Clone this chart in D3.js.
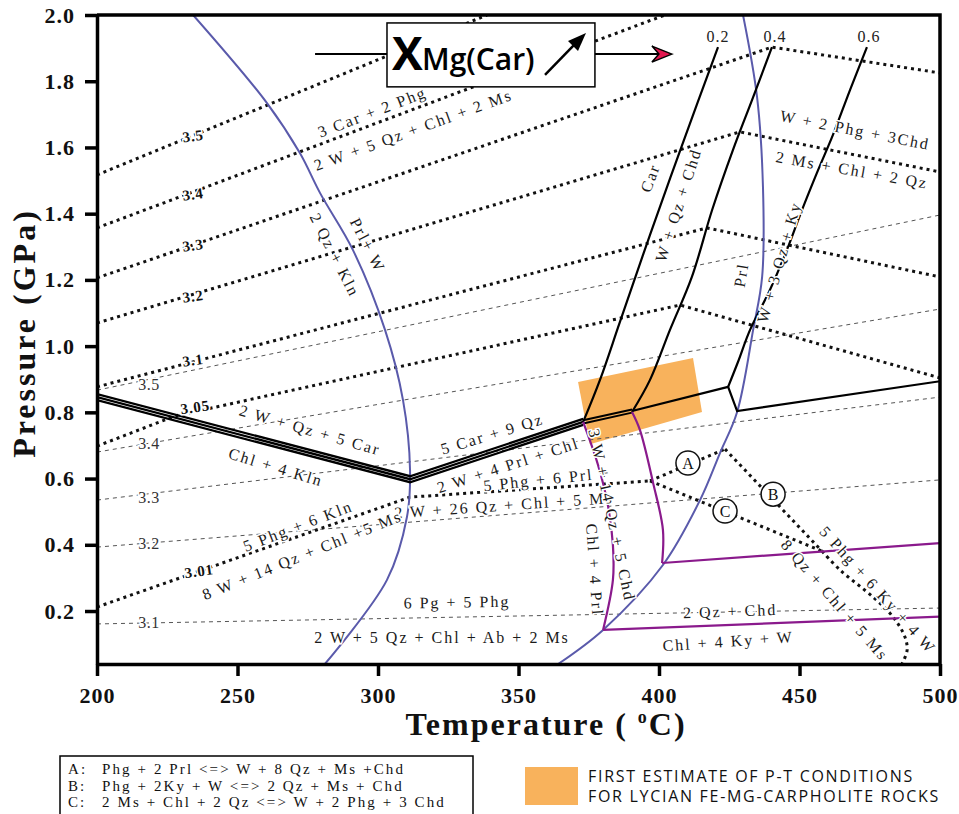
<!DOCTYPE html>
<html lang="en">
<head>
<meta charset="utf-8">
<title>Carpholite P-T grid</title>
<script src="https://cdnjs.cloudflare.com/ajax/libs/d3/7.8.5/d3.min.js"></script>
<style>
  body { margin: 0; background: #fff; }
</style>
</head>
<body>
<script>

// axes
var tempTicks = [200, 250, 300, 350, 400, 450, 500];
var pressTicks = [0.2, 0.4, 0.6, 0.8, 1.0, 1.2, 1.4, 1.6, 1.8, 2.0];

// Prl + W = 2 Qz + Kln  and  Prl = Ky + 3 Qz + W  (blue)
var prlKln = [[234.2,2.0],[260.5,1.734],[272.2,1.583],[279.4,1.462],[291.1,1.290],[302.5,1.049],
              [308.9,0.837],[311.4,0.626],[310.3,0.484],[303.2,0.294],[281.1,0.04]];
var prlKy = [[429.9,2.0],[434.9,1.752],[437.0,1.481],[436.7,1.209],[433.5,1.049],[427.8,0.801],
             [421.7,0.677],[414.6,0.535],[401.4,0.339],[380.1,0.143],[364.1,0.04]];

// XMg(Car) isopleths
var isoNames = ["0.2", "0.4", "0.6"];
var iso02 = [[421.0,1.903],[408.9,1.623],[396.8,1.336],[386.1,1.073],[379.0,0.898],[373.0,0.771]];
var iso04 = [[440.2,1.903],[433.1,1.743],[426.3,1.592],[418.9,1.411],[411.7,1.209],[403.9,1.049],
             [396.8,0.898],[390.4,0.801]];
var iso06 = [[474.0,1.903],[468.0,1.774],[461.9,1.638],[456.2,1.523],[450.2,1.396],[445.9,1.299],
             [439.5,1.170],[432.4,1.049],[428.1,0.952],[424.6,0.877]];
var isoLabelPos = [[421.0,1.934],[441.3,1.934],[474.7,1.934]];

// carpholite-out reactions (heavy black)
var carOutTriple = [[200,0.846],[311.4,0.598],[373.0,0.771]];
var carOutDouble = [[373.0,0.771],[390.4,0.804]];
var carOutSingle = [[390.4,0.804],[424.6,0.877],[427.8,0.804],[500,0.894]];

// chloritoid-in reactions (purple)
var chd1 = [[390.4,0.801],[393.2,0.747],[397.9,0.587],[401.4,0.445],[401.1,0.345]];
var chd1b = [[401.1,0.345],[500,0.405]];
var chd2 = [[373.0,0.771],[378.3,0.641],[381.8,0.520],[383.6,0.399],[383.6,0.294],[380.1,0.143]];
var chd2b = [[380.1,0.143],[500,0.183]];

// Si isopleths, carpholite breakdown (heavy dotted)
var carSi = [
  [[200,1.517],[338.8,2.0]],
  [[200,1.357],[402.1,2.0]],
  [[200,1.206],[440.2,1.903],[500,1.825]],
  [[200,1.070],[428.8,1.647],[500,1.526]],
  [[200,0.877],[417.1,1.357],[500,1.209]],
  [[200,0.698],[227.8,0.789],[407.5,1.124],[500,0.904]],
  [[200,0.212],[311.4,0.544],[396.8,0.593]]
];
var carSiNames = ["3.5", "3.4", "3.3", "3.2", "3.1", "3.05", "3.01"];
var carSiLabelPos = [[234.2,1.635],[234.2,1.459],[234.2,1.305],[234.2,1.151],[234.2,0.958],[234.9,0.816],[236.3,0.321]];

// reactions A, B, C (dotted)
var reacA = [[396.8,0.593],[423.5,0.689]];
var reacB = [[423.5,0.689],[458.0,0.381]];
var reacC = [[396.8,0.593],[458.0,0.381]];
var reacBC = [[458.0,0.381],[464.4,0.324],[476.2,0.242],[483.3,0.182],[487.5,0.122],[488.3,0.082],[486.5,0.04]];
var circleNames = ["A", "B", "C"];
var circlePos = [[410.3,0.647],[440.6,0.553],[423.5,0.502]];

// Si isopleths of phengite (thin dashed)
var phgSi = [
  [[200,0.867],[500,1.396]],
  [[200,0.680],[500,1.112]],
  [[200,0.535],[500,0.846]],
  [[200,0.393],[500,0.596]],
  [[200,0.161],[500,0.209]]
];
var phgSiNames = ["3.5", "3.4", "3.3", "3.2", "3.1"];
var phgSiLabelPos = [[218.5,0.883],[218.5,0.707],[218.5,0.544],[218.5,0.405],[218.5,0.167]];

// P-T estimate for Lycian rocks
var ptField = [[371.2,0.892],[412.1,0.964],[415.3,0.801],[375.4,0.704]];

// reaction labels: text, T, P, angle
var reactionLabels = [
  ["3 Car + 2 Phg", 297.9, 1.707, -21],
  ["2 W + 5 Qz + Chl + 2 Ms", 312.5, 1.653, -20],
  ["2 Qz + Kln", 284.7, 1.275, 63],
  ["Prl+ W", 296.4, 1.305, 63],
  ["Car", 396.8, 1.508, -70],
  ["W + Qz + Chd", 406.8, 1.426, -72],
  ["Prl", 429.2, 1.215, -80],
  ["W + 3 Qz + Ky", 442.7, 1.254, -74],
  ["W + 2 Phg + 3Chd", 469.8, 1.653, 11],
  ["2 Ms + Chl + 2 Qz", 468.7, 1.532, 10],
  ["2 W + Qz + 5 Car", 275.8, 0.747, 16],
  ["Chl + 4 Kln", 263.7, 0.635, 17],
  ["5 Car + 9 Qz", 340.6, 0.735, -17],
  ["2 W + 4 Prl + Chl", 346.3, 0.641, -18],
  ["5 Phg + 6 Prl +", 360.1, 0.599, -6],
  ["2 W + 26 Qz + Chl + 5 Ms", 344.8, 0.520, -4],
  ["5 Phg + 6 Kln", 271.5, 0.457, -21],
  ["8 W + 14 Qz + Chl +5 Ms", 273.0, 0.369, -22],
  ["3 W + 14 Qz + 5 Chd", 383.3, 0.490, 78],
  ["Chl + 4 Prl", 377.2, 0.324, 86],
  ["6 Pg + 5 Phg", 328.1, 0.227, -1],
  ["2 W + 5 Qz + Chl + Ab + 2 Ms", 322.8, 0.119, 0],
  ["2 Qz + Chd", 425.3, 0.200, -2],
  ["Chl + 4 Ky + W", 424.6, 0.109, -4],
  ["5 Phg + 6 Ky + 4 W", 477.9, 0.264, 48],
  ["8 Qz + Chl + 5 Ms", 462.6, 0.233, 49]
];

var legendLines = [
  ["A:", "Phg + 2 Prl <=> W + 8 Qz + Ms +Chd"],
  ["B:", "Phg + 2Ky + W <=> 2 Qz + Ms + Chd"],
  ["C:", "2 Ms + Chl + 2 Qz <=> W + 2 Phg + 3 Chd"]
];
var fieldLegend = ["FIRST ESTIMATE OF P-T CONDITIONS", "FOR LYCIAN FE-MG-CARPHOLITE ROCKS"];

// the XMg(Car) box, in T / P
var boxT = [303.2, 377.2];
var boxP = [1.783, 1.976];
var boxLineP = 1.882;
var boxLineT = [277.6, 404.6];

var serif = "Liberation Serif, Times New Roman, serif";
var comic = "Comic Sans MS, Open Sans, sans-serif";

//Width and height
var w = 959;
var h = 814;

var xScale = d3.scaleLinear().domain([200, 500]).range([97, 940]);
var yScale = d3.scaleLinear().domain([0.04, 2.0]).range([664, 15]);

var line = d3.line()
  .x(function(d) { return xScale(d[0]); })
  .y(function(d) { return yScale(d[1]); });
var curve = d3.line()
  .x(function(d) { return xScale(d[0]); })
  .y(function(d) { return yScale(d[1]); })
  .curve(d3.curveCatmullRom.alpha(0.5));

var svg = d3.select("body")
  .append("svg")
  .attr("width", w)
  .attr("height", h)
  .attr("font-family", serif);

svg.append("defs").append("clipPath").attr("id", "clip")
  .append("rect")
  .attr("x", xScale(200)).attr("y", yScale(2.0))
  .attr("width", xScale(500) - xScale(200))
  .attr("height", yScale(0.04) - yScale(2.0));

var plot = svg.append("g").attr("clip-path", "url(#clip)");

// orange field
plot.append("path")
  .datum(ptField)
  .attr("d", line.curve(d3.curveLinearClosed))
  .attr("fill", "#f8b25c");
line.curve(d3.curveLinear);

// thin dashed phengite isopleths
plot.selectAll(".phg")
  .data(phgSi)
  .enter()
  .append("path")
  .attr("d", line)
  .attr("fill", "none")
  .attr("stroke", "#555")
  .attr("stroke-width", 1)
  .attr("stroke-dasharray", "4,4");

// heavy dotted lines
var dotted = carSi.concat([reacA, reacB, reacC]);
plot.selectAll(".dot")
  .data(dotted)
  .enter()
  .append("path")
  .attr("d", line)
  .attr("fill", "none")
  .attr("stroke", "#111")
  .attr("stroke-width", 3)
  .attr("stroke-dasharray", "3,4");
plot.append("path")
  .datum(reacBC)
  .attr("d", curve)
  .attr("fill", "none")
  .attr("stroke", "#111")
  .attr("stroke-width", 3)
  .attr("stroke-dasharray", "3,4");

// blue curves
plot.selectAll(".blue")
  .data([prlKln, prlKy])
  .enter()
  .append("path")
  .attr("d", curve)
  .attr("fill", "none")
  .attr("stroke", "#5a5aab")
  .attr("stroke-width", 2);

// XMg isopleths
plot.selectAll(".iso")
  .data([iso02, iso04, iso06])
  .enter()
  .append("path")
  .attr("d", curve)
  .attr("fill", "none")
  .attr("stroke", "#000")
  .attr("stroke-width", 2.2);

// heavy black car-out lines
[-3, 0, 3].forEach(function(off) {
  plot.append("path")
    .datum(carOutTriple)
    .attr("d", line)
    .attr("transform", "translate(0," + off + ")")
    .attr("fill", "none")
    .attr("stroke", "#000")
    .attr("stroke-width", 2.3);
});
[-1.6, 1.6].forEach(function(off) {
  plot.append("path")
    .datum(carOutDouble)
    .attr("d", line)
    .attr("transform", "translate(0," + off + ")")
    .attr("fill", "none")
    .attr("stroke", "#000")
    .attr("stroke-width", 2);
});
plot.append("path")
  .datum(carOutSingle)
  .attr("d", line)
  .attr("fill", "none")
  .attr("stroke", "#000")
  .attr("stroke-width", 2.2);

// purple lines
var purple = plot.append("g")
  .attr("fill", "none")
  .attr("stroke", "#8a1a8c")
  .attr("stroke-width", 2.2);
purple.append("path").datum(chd1).attr("d", curve);
purple.append("path").datum(chd2).attr("d", curve);
purple.append("path").datum(chd1b).attr("d", line);
purple.append("path").datum(chd2b).attr("d", line);

// reaction labels
svg.selectAll(".rlab")
  .data(reactionLabels)
  .enter()
  .append("text")
  .attr("transform", function(d) {
    return "translate(" + xScale(d[1]) + "," + yScale(d[2]) + ") rotate(" + d[3] + ")";
  })
  .attr("text-anchor", "middle")
  .attr("dy", "0.35em")
  .attr("font-size", "16px")
  .attr("letter-spacing", "2px")
  .attr("fill", "#1a1a1a")
  .attr("stroke", "#fff")
  .attr("stroke-width", 3)
  .attr("paint-order", "stroke")
  .text(function(d) { return d[0]; });

// Si labels (carpholite reactions)
svg.selectAll(".clab")
  .data(carSiNames)
  .enter()
  .append("text")
  .attr("transform", function(d, i) {
    return "translate(" + xScale(carSiLabelPos[i][0]) + "," + yScale(carSiLabelPos[i][1]) + ") rotate(-8)";
  })
  .attr("text-anchor", "middle")
  .attr("dy", "0.35em")
  .attr("font-size", "15px")
  .attr("font-weight", "bold")
  .attr("letter-spacing", "0.8px")
  .attr("fill", "#111")
  .attr("stroke", "#fff")
  .attr("stroke-width", 3)
  .attr("paint-order", "stroke")
  .text(function(d) { return d; });

// Si labels (phengite)
svg.selectAll(".plab")
  .data(phgSiNames)
  .enter()
  .append("text")
  .attr("x", function(d, i) { return xScale(phgSiLabelPos[i][0]); })
  .attr("y", function(d, i) { return yScale(phgSiLabelPos[i][1]); })
  .attr("text-anchor", "middle")
  .attr("dy", "0.35em")
  .attr("font-size", "16px")
  .attr("letter-spacing", "0.5px")
  .attr("fill", "#333")
  .attr("stroke", "#fff")
  .attr("stroke-width", 3)
  .attr("paint-order", "stroke")
  .text(function(d) { return d; });

// isopleth labels
svg.selectAll(".ilab")
  .data(isoNames)
  .enter()
  .append("text")
  .attr("x", function(d, i) { return xScale(isoLabelPos[i][0]); })
  .attr("y", function(d, i) { return yScale(isoLabelPos[i][1]); })
  .attr("text-anchor", "middle")
  .attr("dy", "0.35em")
  .attr("font-size", "16px")
  .attr("letter-spacing", "1px")
  .attr("fill", "#222")
  .text(function(d) { return d; });

// circled A B C
var circ = svg.selectAll(".circ")
  .data(circleNames)
  .enter()
  .append("g")
  .attr("transform", function(d, i) {
    return "translate(" + xScale(circlePos[i][0]) + "," + yScale(circlePos[i][1]) + ")";
  });
circ.append("circle").attr("r", 12).attr("fill", "#fff").attr("stroke", "#111").attr("stroke-width", 1.5);
circ.append("text")
  .attr("text-anchor", "middle")
  .attr("dy", "0.35em")
  .attr("font-size", "16px")
  .attr("fill", "#111")
  .text(function(d) { return d; });

// frame: top and right
svg.append("path")
  .attr("d", "M" + xScale(200) + "," + yScale(2.0) + "H" + xScale(500) + "V" + yScale(0.04))
  .attr("fill", "none")
  .attr("stroke", "#000")
  .attr("stroke-width", 3.5);

// axes
var xAxis = d3.axisBottom(xScale).tickValues(tempTicks).tickSize(12).tickSizeOuter(0).tickPadding(11);
var yAxis = d3.axisLeft(yScale).tickValues(pressTicks).tickSize(12).tickSizeOuter(0).tickPadding(10)
  .tickFormat(d3.format(".1f"));

var gx = svg.append("g").attr("transform", "translate(0," + yScale(0.04) + ")").call(xAxis);
var gy = svg.append("g").attr("transform", "translate(" + xScale(200) + ",0)").call(yAxis);
[gx, gy].forEach(function(g) {
  g.select(".domain").attr("stroke-width", 3.5).attr("stroke", "#000");
  g.selectAll(".tick line").attr("stroke-width", 3.5).attr("stroke", "#000");
  g.selectAll(".tick text")
    .attr("font-family", serif)
    .attr("font-size", "22px")
    .attr("font-weight", "bold")
    .attr("letter-spacing", "1px")
    .attr("fill", "#111");
});

// axis titles
var tt = svg.append("text")
  .attr("x", 546).attr("y", 735)
  .attr("text-anchor", "middle")
  .attr("font-size", "32px")
  .attr("font-weight", "bold")
  .attr("letter-spacing", "2px")
  .attr("fill", "#111");
tt.append("tspan").text("Temperature ( ");
tt.append("tspan").attr("font-size", "18px").attr("dy", -12).text("o");
tt.append("tspan").attr("dy", 12).text("C)");

svg.append("text")
  .attr("transform", "translate(35,333) rotate(-90)")
  .attr("text-anchor", "middle")
  .attr("font-size", "32px")
  .attr("font-weight", "bold")
  .attr("letter-spacing", "3px")
  .attr("fill", "#111")
  .text("Pressure (GPa)");

// XMg(Car) box
var bx = xScale(boxT[0]), by = yScale(boxP[1]);
var bw = xScale(boxT[1]) - bx, bh = yScale(boxP[0]) - by;
var ly = yScale(boxLineP);
svg.append("line")
  .attr("x1", xScale(boxLineT[0])).attr("x2", bx)
  .attr("y1", ly).attr("y2", ly)
  .attr("stroke", "#000").attr("stroke-width", 2);
svg.append("line")
  .attr("x1", bx + bw).attr("x2", xScale(boxLineT[1]) - 10)
  .attr("y1", ly).attr("y2", ly)
  .attr("stroke", "#000").attr("stroke-width", 2);
var tipX = xScale(boxLineT[1]);
svg.append("path")
  .attr("d", "M" + tipX + "," + ly + "L" + (tipX - 20) + "," + (ly - 8) + "L" + (tipX - 13) + "," + ly +
        "L" + (tipX - 20) + "," + (ly + 8) + "Z")
  .attr("fill", "#e3174f")
  .attr("stroke", "#000")
  .attr("stroke-width", 1.5);
svg.append("rect")
  .attr("x", bx).attr("y", by).attr("width", bw).attr("height", bh)
  .attr("fill", "#fff").attr("stroke", "#000").attr("stroke-width", 1.5);
svg.append("text")
  .attr("x", bx + 5).attr("y", by + 47)
  .attr("font-family", comic)
  .attr("font-size", "46px").attr("font-weight", "bold").attr("fill", "#000")
  .text("X");
svg.append("text")
  .attr("x", bx + 35).attr("y", by + 47)
  .attr("font-family", comic)
  .attr("font-size", "30px").attr("font-weight", "600").attr("fill", "#000")
  .text("Mg(Car)");
svg.append("line")
  .attr("x1", bx + 158).attr("y1", by + 52)
  .attr("x2", bx + 192).attr("y2", by + 17)
  .attr("stroke", "#000").attr("stroke-width", 2.5);
svg.append("path")
  .attr("d", "M" + (bx + 199) + "," + (by + 10) + "L" + (bx + 181) + "," + (by + 18) + "L" + (bx + 191) + "," + (by + 28) + "Z")
  .attr("fill", "#000");

// legend of reactions
svg.append("rect")
  .attr("x", 60).attr("y", 756).attr("width", 413).attr("height", 70)
  .attr("fill", "#fff").attr("stroke", "#000").attr("stroke-width", 1.5);
legendLines.forEach(function(d, i) {
  var t = svg.append("text")
    .attr("y", 774 + i * 16.5)
    .attr("font-size", "15px")
    .attr("letter-spacing", "2.1px")
    .attr("fill", "#111");
  t.append("tspan").attr("x", 68).text(d[0]);
  t.append("tspan").attr("x", 102).text(d[1]);
});

// legend of orange field
svg.append("rect")
  .attr("x", 525).attr("y", 767).attr("width", 53).attr("height", 38)
  .attr("fill", "#f8b25c");
svg.selectAll(".flab")
  .data(fieldLegend)
  .enter()
  .append("text")
  .attr("x", 588)
  .attr("y", function(d, i) { return 782 + i * 20; })
  .attr("font-family", comic)
  .attr("font-size", "16px")
  .attr("letter-spacing", "1.7px")
  .attr("fill", "#111")
  .text(function(d) { return d; });

</script>
</body>
</html>
